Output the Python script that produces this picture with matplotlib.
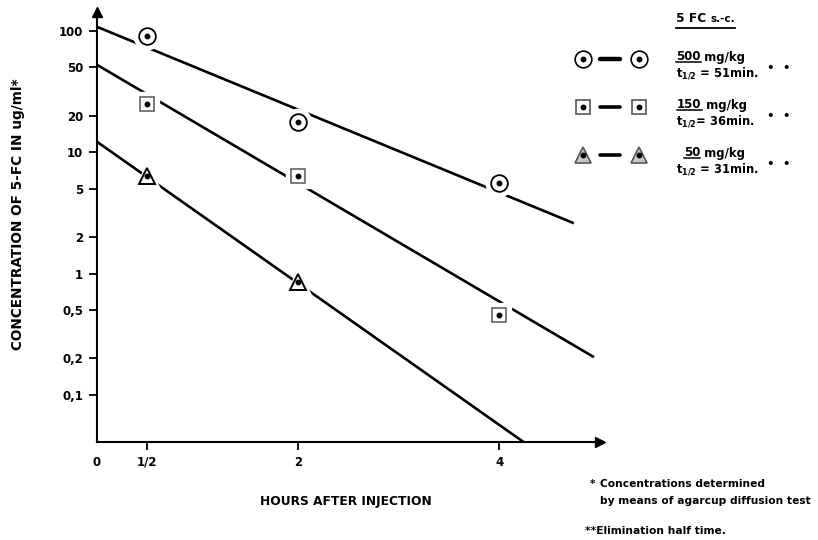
import matplotlib
matplotlib.use("Agg")
import matplotlib.pyplot as plt

plt.rcParams["font.family"] = ["DejaVu Sans"]
plt.rcParams["font.weight"] = "bold"
plt.rcParams["mathtext.default"] = "regular"

hours = [0.5, 2, 4]
conc_500 = [91, 17.8, 5.6]
conc_150 = [25, 6.4, 0.46]
hours_50 = [0.5, 2]
conc_50 = [6.4, 0.85]

# elimination lines: start and end of each straight segment
fit_500_h = [0, 4.74]
fit_500_c = [108, 2.6]
fit_150_h = [0, 4.94]
fit_150_c = [52.5, 0.205]
fit_50_h = [0, 4.24]
fit_50_c = [12.2, 0.041]

y_ticks = [100, 50, 20, 10, 5, 2, 1, 0.5, 0.2, 0.1]
y_labels = ["100", "50", "20", "10", "5", "2", "1", "0,5", "0,2", "0,1"]
x_ticks = [0, 0.5, 2, 4]
x_labels = ["0", "1/2", "2", "4"]

W, H = 818, 540
fig = plt.figure(figsize=(W / 100, H / 100), dpi=100)
ax = fig.add_axes([97 / W, 98 / H, 503 / W, 430 / H])
ax.set_yscale("log")
ax.set_xlim(0, 5.0)
ax.set_ylim(0.041, 143)

for s in ["top", "right"]:
    ax.spines[s].set_visible(False)
for s in ["left", "bottom"]:
    ax.spines[s].set_linewidth(1.5)
ax.plot(1, 0, ">k", ms=7, transform=ax.transAxes, clip_on=False)
ax.plot(0, 1, "^k", ms=7, transform=ax.transAxes, clip_on=False)

ax.set_yticks(y_ticks)
ax.set_yticklabels(y_labels)
ax.minorticks_off()
ax.set_xticks(x_ticks)
ax.set_xticklabels(x_labels)
ax.xaxis.get_major_ticks()[0].tick1line.set_visible(False)
ax.tick_params(axis="both", direction="out", length=6, width=1.3, labelsize=8.5, pad=4)

lw = 1.9
ax.plot(fit_500_h, fit_500_c, color="black", lw=lw, solid_capstyle="butt", zorder=2)
ax.plot(fit_150_h, fit_150_c, color="black", lw=lw, solid_capstyle="butt", zorder=2)
ax.plot(fit_50_h, fit_50_c, color="black", lw=lw, solid_capstyle="butt", zorder=2)


def draw_points(target, h, c, marker, ms, edge, face="white", mew=1.3):
    target.plot(h, c, ls="none", marker=marker, ms=ms + 7, mfc="white", mec="white", zorder=3)
    target.plot(h, c, ls="none", marker=marker, ms=ms, mfc=face, mec=edge, mew=mew, zorder=4)
    target.plot(h, c, ls="none", marker="o", ms=3.2, color="black", zorder=5)


draw_points(ax, hours, conc_500, "o", 12, "black")
draw_points(ax, hours, conc_150, "s", 10, "#555555", mew=1.1)
draw_points(ax, hours_50, conc_50, "^", 12, "black", mew=1.4)

fig.text(18 / W, 1 - 214 / H, "CONCENTRATION OF 5-FC IN ug/ml*", rotation=90,
         ha="center", va="center", fontsize=9.8)
fig.text(346 / W, 1 - 501 / H, "HOURS AFTER INJECTION", ha="center", va="center", fontsize=8.8)

# legend and footnotes in pixel space
lg = fig.add_axes([0, 0, 1, 1])
lg.set_xlim(0, W)
lg.set_ylim(H, 0)
lg.axis("off")
fig.canvas.draw()
renderer = fig.canvas.get_renderer()
inv = lg.transData.inverted()


def underlined(x, y, first, rest="", size=8.5, first_size=None):
    t = lg.text(x, y, first, ha="left", va="center", fontsize=first_size or size)
    bb = t.get_window_extent(renderer)
    (x0, y0), (x1, _) = inv.transform([[bb.x0, bb.y0], [bb.x1, bb.y1]])
    if rest:
        t2 = lg.text(x1, y, rest, ha="left", va="center", fontsize=size)
        return x0, x1, y0, t2
    return x0, x1, y0, None


# header "5 FC s.-c." underlined across
x0, x1, y0, t2 = underlined(676, 19, "5 FC ", "s.-c.", size=7.5, first_size=8.8)
bb2 = t2.get_window_extent(renderer)
(xe, _), = inv.transform([[bb2.x1, bb2.y0]])
lg.plot([x0, xe], [28, 28], color="black", lw=1.3)

rows = [
    (59, "o", 12, "black", "white", 3.2, "500", " mg/kg", "t$_{1/2}$ = 51min.", 676),
    (107, "s", 10, "#555555", "white", 2.6, "150", " mg/kg", "t$_{1/2}$= 36min.", 677),
    (155, "^", 12, "#555555", "#c8c8c8", 2.6, "50", " mg/kg", "t$_{1/2}$ = 31min.", 684),
]
for y, mk, ms, ec, fc, dash_w, dose, unit, thalf, tx in rows:
    lg.plot([600, 620], [y, y], color="black", lw=dash_w, solid_capstyle="round")
    for mx in [583, 639]:
        lg.plot(mx, y, marker=mk, ms=ms, mfc=fc, mec=ec, mew=1.2)
        lg.plot(mx, y, marker="o", ms=3.2, color="black")
    ux0, ux1, uy0, _ = underlined(tx, y - 2, dose, unit)
    lg.plot([ux0, ux1], [uy0 - 1.5, uy0 - 1.5], color="black", lw=1.1)
    lg.text(676, y + 14, thalf, ha="left", va="center", fontsize=8.3)
    lg.text(767, y + 9, "•  •", ha="left", va="center", fontsize=8.5)

lg.text(590, 484, "*", ha="left", va="center", fontsize=7.5)
lg.text(600, 484, "Concentrations determined", ha="left", va="center", fontsize=7.7)
lg.text(600, 501, "by means of agarcup diffusion test", ha="left", va="center", fontsize=7.7)
lg.text(585, 531, "**Elimination half time.", ha="left", va="center", fontsize=7.7)

fig.savefig("out.png", dpi=100, facecolor="white")
